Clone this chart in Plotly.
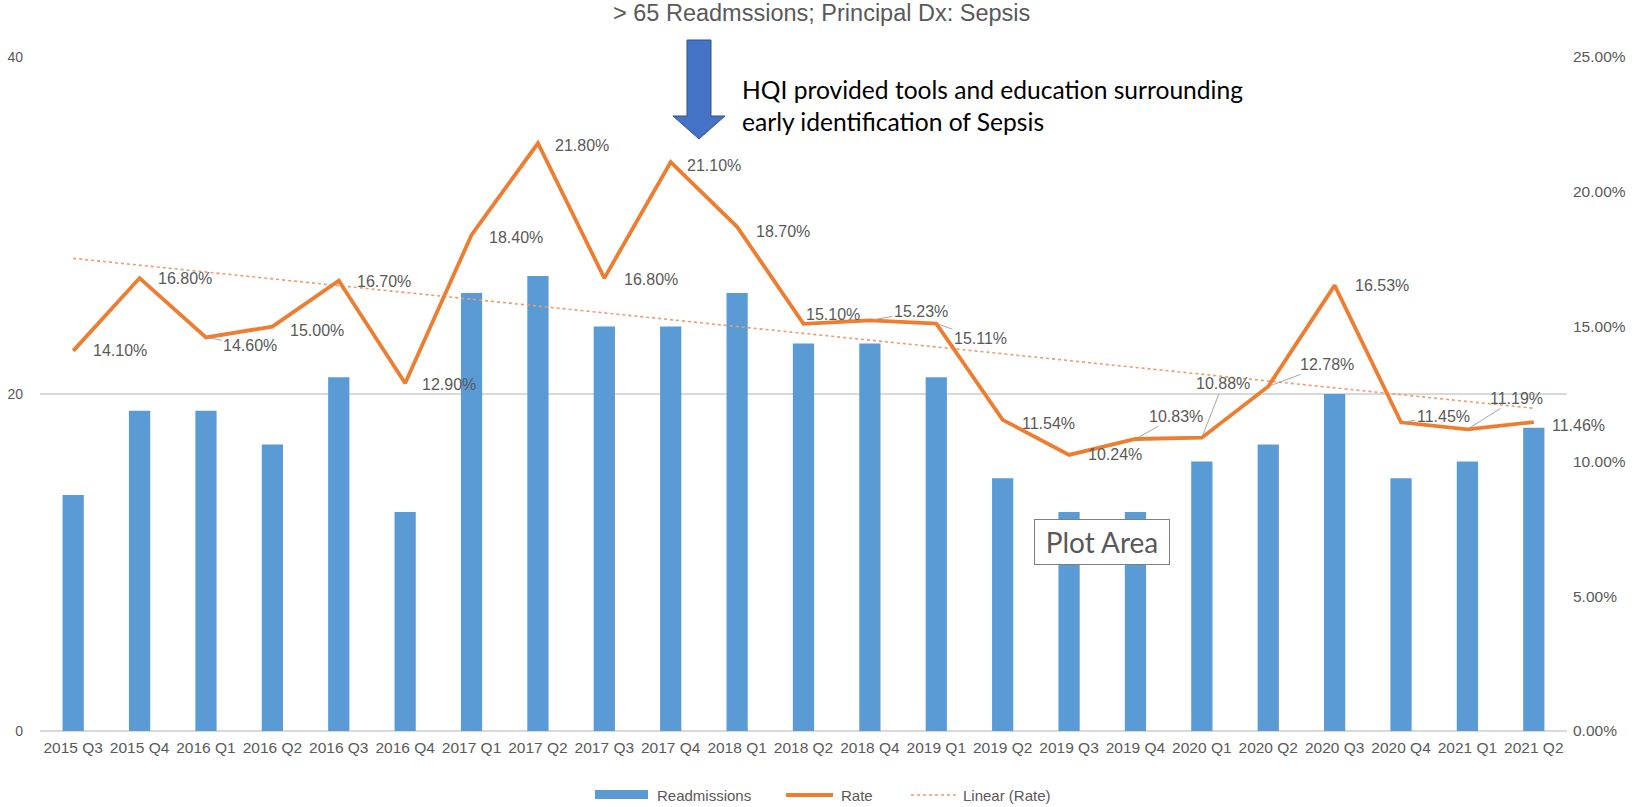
import plotly.graph_objects as go

# ---------------- data ----------------
categories = ["2015 Q3", "2015 Q4", "2016 Q1", "2016 Q2", "2016 Q3", "2016 Q4",
              "2017 Q1", "2017 Q2", "2017 Q3", "2017 Q4", "2018 Q1", "2018 Q2",
              "2018 Q4", "2019 Q1", "2019 Q2", "2019 Q3", "2019 Q4", "2020 Q1",
              "2020 Q2", "2020 Q3", "2020 Q4", "2021 Q1", "2021 Q2"]
readmissions = [14, 19, 19, 17, 21, 13, 26, 27, 24, 24, 26, 23,
                23, 21, 15, 13, 13, 16, 17, 20, 15, 16, 18]
rate_pct = [14.10, 16.80, 14.60, 15.00, 16.70, 12.90, 18.40, 21.80, 16.80, 21.10, 18.70, 15.10,
            15.23, 15.11, 11.54, 10.24, 10.83, 10.88, 12.78, 16.53, 11.45, 11.19, 11.46]
# linear trendline of Rate, read at first and last category
trend_pct = [17.53, 11.97]
left_ticks = [0, 20, 40]
right_ticks = [0, 5, 10, 15, 20, 25]

title_text = "&gt; 65 Readmssions; Principal Dx: Sepsis"
note_text = "HQI provided tools and education surrounding<br>early identification of Sepsis"

# ---------------- style ----------------
W, H = 1638, 807
ML, MR, MT, MB = 40, 71, 57, 76
PW, PH = W - ML - MR, H - MT - MB
BLUE = "#5B9BD5"
ORANGE = "#ED7D31"
TREND = "#F2996B"
GRAY = "#595959"
GRID = "#D9D9D9"
FONT = "Liberation Sans"


def px(x):
    return (x - ML) / PW


def py(y):
    return (H - MB - y) / PH


# label offsets (pixels, label centre relative to point) and leader flags
label_dx = [47, 45, 44, 45, 45, 44, 44, 44, 47, 43, 46, 29,
            51, 44, 46, 46, 41, 21, 59, 47, 42, 49, 45]
label_dy = [0, 0, 8, 4, 1, 1, 3, 2, 1, 3, 5, -9,
            -9, 15, 4, 0, -23, -54, -22, 0, -6, -31, 3]
leader = [0, 0, 1, 0, 0, 0, 0, 0, 0, 0, 0, 0,
          1, 1, 0, 0, 1, 1, 1, 0, 1, 1, 0]

rate = [v / 100 for v in rate_pct]
trend = [v / 100 for v in trend_pct]

fig = go.Figure()
fig.add_trace(go.Bar(x=categories, y=readmissions, name="Readmissions",
                     marker=dict(color=BLUE, line=dict(width=0)), yaxis="y",
                     hoverinfo="skip"))
fig.add_trace(go.Scatter(x=[categories[0], categories[-1]], y=trend, name="Linear (Rate)",
                         mode="lines", yaxis="y2",
                         line=dict(color=TREND, width=1.6, dash="dot"),
                         hoverinfo="skip"))
fig.add_trace(go.Scatter(x=categories, y=rate, name="Rate", mode="lines", yaxis="y2",
                         line=dict(color=ORANGE, width=3.8), hoverinfo="skip"))

annotations = []
for c, r, dx, dy, ld in zip(categories, rate, label_dx, label_dy, leader):
    annotations.append(dict(
        x=c, y=r, xref="x", yref="y2", text=f"{r*100:.2f}%",
        showarrow=True, ax=dx, ay=dy, arrowhead=0, arrowwidth=1,
        arrowcolor="#A6A6A6" if ld else "rgba(0,0,0,0)", standoff=3,
        font=dict(family=FONT, size=16, color=GRAY)))

# title
annotations.append(dict(x=px(821), y=py(13), xref="paper", yref="paper", text=title_text,
                        showarrow=False, xanchor="center", yanchor="middle",
                        font=dict(family=FONT, size=23.5, color=GRAY)))
# note next to the arrow
annotations.append(dict(x=px(740), y=py(105), xref="paper", yref="paper", text=note_text,
                        showarrow=False, xanchor="left", yanchor="middle", align="left",
                        font=dict(family="Lato", size=24.6, color="#000000")))
# "Plot Area" tooltip box
annotations.append(dict(x=px(1102), y=py(542), xref="paper", yref="paper", text="Plot Area",
                        showarrow=False, xanchor="center", yanchor="middle",
                        width=128, height=38, borderpad=3,
                        bgcolor="#FFFFFF", bordercolor="#7F7F7F", borderwidth=1,
                        font=dict(family="Lato", size=28, color=GRAY)))

# legend (custom, to match wide swatches)
legend_items = [("Readmissions", 655), ("Rate", 839), ("Linear (Rate)", 961)]
for txt, x0 in legend_items:
    annotations.append(dict(x=px(x0), y=py(795), xref="paper", yref="paper", text=txt,
                            showarrow=False, xanchor="left", yanchor="middle",
                            font=dict(family=FONT, size=15, color=GRAY)))

shapes = [
    # legend swatches
    dict(type="rect", xref="paper", yref="paper", x0=px(595), x1=px(648), y0=py(799), y1=py(790),
         fillcolor=BLUE, line=dict(width=0)),
    dict(type="line", xref="paper", yref="paper", x0=px(786), x1=px(833), y0=py(795), y1=py(795),
         line=dict(color=ORANGE, width=4)),
    dict(type="line", xref="paper", yref="paper", x0=px(911), x1=px(956), y0=py(795), y1=py(795),
         line=dict(color=TREND, width=1.6, dash="dot")),
]
# down arrow
ax_pts = [(687, 40), (711, 40), (711, 116), (725, 116), (699, 139), (673, 116), (687, 116)]
path = "M " + " L ".join(f"{px(a):.5f},{py(b):.5f}" for a, b in ax_pts) + " Z"
shapes.append(dict(type="path", xref="paper", yref="paper", path=path,
                   fillcolor="#4472C4", line=dict(color="#2F528F", width=1)))

fig.update_layout(
    width=W, height=H,
    margin=dict(l=ML, r=MR, t=MT, b=MB, autoexpand=False),
    paper_bgcolor="#FFFFFF", plot_bgcolor="#FFFFFF",
    showlegend=False, bargap=0.68, hovermode=False,
    font=dict(family=FONT, color=GRAY),
    xaxis=dict(type="category", tickangle=0, showgrid=False, showline=False, zeroline=False,
               ticks="", ticklabelstandoff=5, tickfont=dict(family=FONT, size=15.5, color=GRAY),
               range=[-0.5, len(categories) - 0.5]),
    yaxis=dict(range=[0, 40], tickvals=left_ticks, showgrid=True, gridcolor=GRID, gridwidth=1.5,
               zeroline=True, zerolinecolor=GRID, zerolinewidth=1.5, showline=False, ticks="",
               ticklabelstandoff=16, tickfont=dict(family=FONT, size=14, color=GRAY)),
    yaxis2=dict(range=[0, 0.25], tickvals=[v / 100 for v in right_ticks], tickformat=".2%",
                overlaying="y", side="right", showgrid=False, zeroline=False, showline=False,
                ticks="", ticklabelstandoff=5, tickfont=dict(family=FONT, size=15.5, color=GRAY)),
    annotations=annotations, shapes=shapes,
)

fig.write_html("out.html", config={"displayModeBar": False},
               post_script="document.body.style.margin='0';document.body.style.overflow='hidden';")
